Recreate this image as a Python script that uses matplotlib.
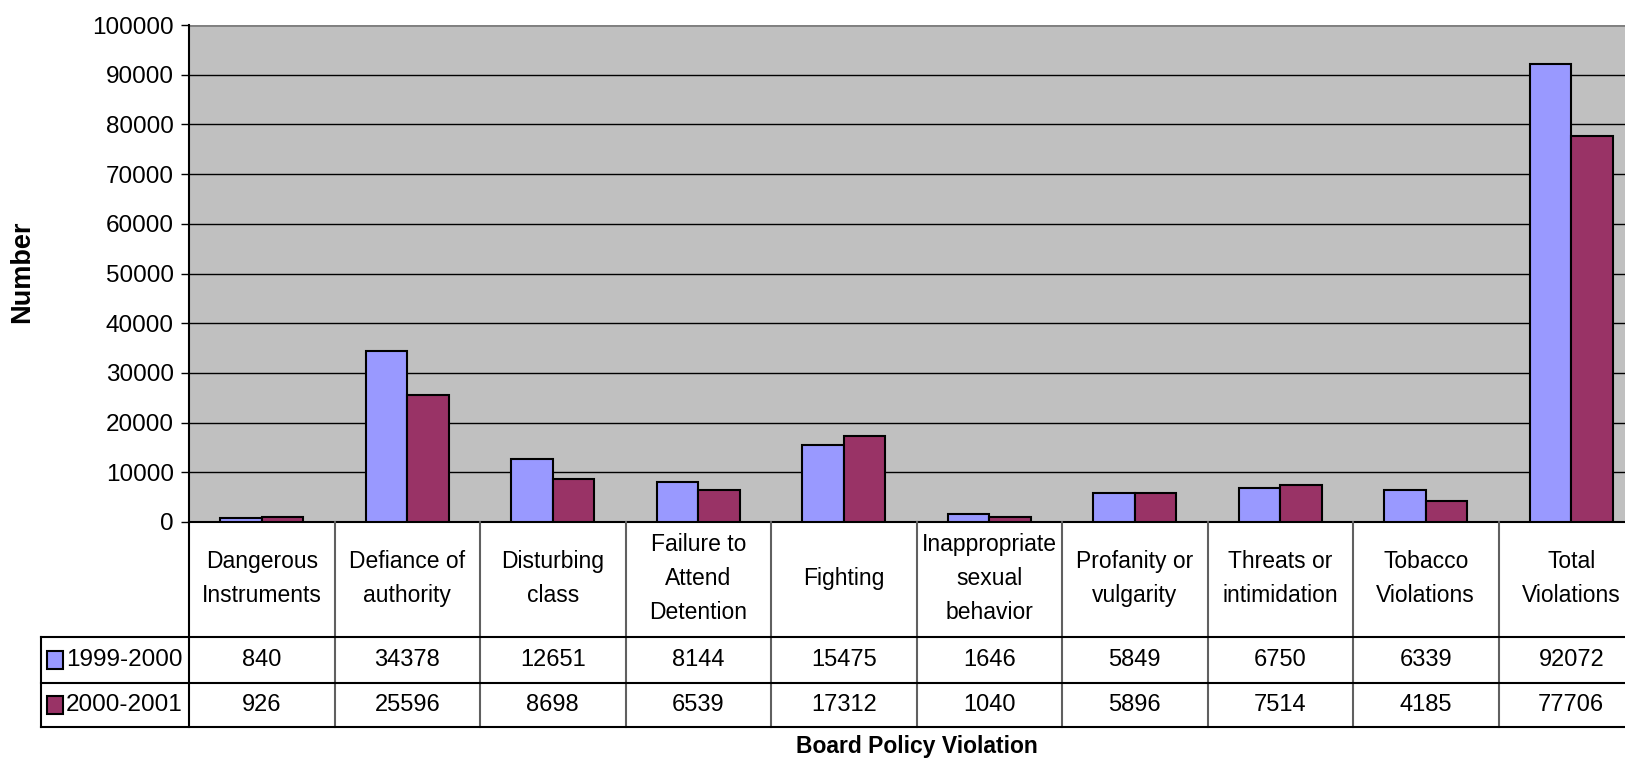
import matplotlib
matplotlib.use("Agg")
import matplotlib.pyplot as plt
import matplotlib.transforms as mtransforms
from matplotlib.patches import Rectangle
from matplotlib.lines import Line2D

plt.rcParams['font.family'] = ['Liberation Sans', 'DejaVu Sans']

categories = ["Dangerous\nInstruments", "Defiance of\nauthority", "Disturbing\nclass",
              "Failure to\nAttend\nDetention", "Fighting", "Inappropriate\nsexual\nbehavior",
              "Profanity or\nvulgarity", "Threats or\nintimidation", "Tobacco\nViolations",
              "Total\nViolations"]
series_names = ["1999-2000", "2000-2001"]
values_1999 = [840, 34378, 12651, 8144, 15475, 1646, 5849, 6750, 6339, 92072]
values_2000 = [926, 25596, 8698, 6539, 17312, 1040, 5896, 7514, 4185, 77706]
y_ticks = [0, 10000, 20000, 30000, 40000, 50000, 60000, 70000, 80000, 90000, 100000]

colors = ["#9999FF", "#993366"]
W, H = 1625, 761
fig = plt.figure(figsize=(W / 100, H / 100), dpi=100)

left_px, right_px, top_px, zero_px = 189, 1644, 25, 522
ax = fig.add_axes([left_px / W, 1 - zero_px / H, (right_px - left_px) / W, (zero_px - top_px) / H])
ax.set_facecolor("#C0C0C0")

n = len(categories)
x = list(range(n))
bw = 1 / 3.5
ax.bar([i - bw / 2 for i in x], values_1999, width=bw, color=colors[0], edgecolor="black", linewidth=1.5, zorder=3)
ax.bar([i + bw / 2 for i in x], values_2000, width=bw, color=colors[1], edgecolor="black", linewidth=1.5, zorder=3)

ax.set_xlim(-0.5, n - 0.5)
ax.set_ylim(0, 100000)
ax.set_yticks(y_ticks)
ax.set_yticklabels([str(v) for v in y_ticks], fontsize=17.5)
ax.tick_params(axis="y", direction="out", length=6, width=1, pad=5, colors="black")
ax.set_xticks([])
ax.yaxis.grid(True, color="black", linewidth=1)
ax.set_axisbelow(True)
for s in ["top", "right"]:
    ax.spines[s].set_visible(False)
ax.spines["left"].set_linewidth(1.5)
ax.spines["bottom"].set_linewidth(1.5)
ax.axhline(100000, color="#808080", linewidth=2, zorder=1)

# Data table below the plot
tr = mtransforms.blended_transform_factory(ax.transData, fig.transFigure)
col_px = (right_px - left_px) / n

def fy(p):
    return 1 - p / H

legend_left = -0.5 - (left_px - 41) / col_px
row_y = [637, 683, 727]
x_end = n - 0.5 + 0.2

for k in range(n + 1):
    xv = -0.5 + k
    col = "black" if k == 0 else "#606060"
    fig.add_artist(Line2D([xv, xv], [fy(zero_px), fy(727)], transform=tr, color=col, linewidth=1.5))
fig.add_artist(Line2D([legend_left, legend_left], [fy(637), fy(727)], transform=tr, color="black", linewidth=1.5))
for yp in row_y:
    fig.add_artist(Line2D([legend_left, x_end], [fy(yp), fy(yp)], transform=tr, color="black", linewidth=1.5))

for i, c in enumerate(categories):
    fig.text(i, fy((zero_px + 637) / 2 - 1), c, transform=tr, ha="center", va="center",
             fontsize=16.5, linespacing=1.6)
    fig.text(i, fy((637 + 683) / 2), str(values_1999[i]), transform=tr, ha="center", va="center", fontsize=17)
    fig.text(i, fy((683 + 727) / 2), str(values_2000[i]), transform=tr, ha="center", va="center", fontsize=17)

for r, (name, colr) in enumerate(zip(series_names, colors)):
    yc = [(637 + 683) / 2, (683 + 727) / 2][r]
    fig.add_artist(Rectangle((47 / W, fy(yc + 9)), 16 / W, 18 / H, transform=fig.transFigure,
                             facecolor=colr, edgecolor="black", linewidth=1.5))
    fig.text(66 / W, fy(yc), name, ha="left", va="center", fontsize=17.5)

fig.text((left_px + right_px) / 2 / W, fy(747), "Board Policy Violation", ha="center", va="center",
         fontsize=16.5, fontweight="bold")
fig.text(22 / W, fy(272), "Number", ha="center", va="center", rotation=90,
         fontsize=19.5, fontweight="bold")

fig.savefig("out.png", dpi=100)
